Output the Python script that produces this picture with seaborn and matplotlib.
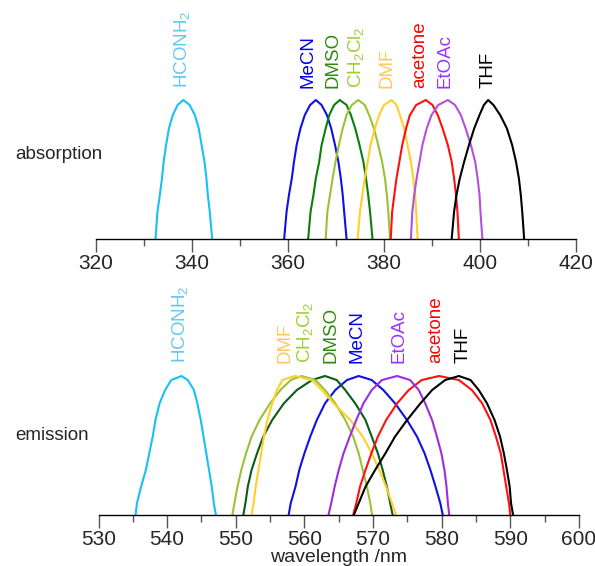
import numpy as np
import pandas as pd
import matplotlib
matplotlib.use("Agg")
import matplotlib.pyplot as plt
import seaborn as sns
from matplotlib.ticker import MultipleLocator

sns.set_style("white")
plt.rcParams['font.family'] = ['Liberation Sans', 'DejaVu Sans']
plt.rcParams['mathtext.fontset'] = 'custom'
plt.rcParams['mathtext.rm'] = 'Liberation Sans'
plt.rcParams['mathtext.it'] = 'Liberation Sans:italic'

solvents = ['HCONH2', 'MeCN', 'DMSO', 'CH2Cl2', 'DMF', 'acetone', 'EtOAc', 'THF']
solvent_labels = [r'HCONH$_\mathregular{2}$', 'MeCN', 'DMSO', r'CH$_\mathregular{2}$Cl$_\mathregular{2}$',
                  'DMF', 'acetone', 'EtOAc', 'THF']

# ---- absorption (normalised top part of each band), read at fixed levels ----
abs_levels = [0, 0.196, 0.317, 0.437, 0.556, 0.676, 0.796, 0.892, 0.964, 1.0,
              0.964, 0.892, 0.796, 0.676, 0.556, 0.437, 0.317, 0.196, 0]
abs_HCONH2_x = [332.4, 332.8, 333.3, 333.75, 334.1, 334.6, 335.2, 336.0, 337.0, 338.2,
                339.5, 340.6, 341.4, 342.0, 342.6, 343.0, 343.3, 343.7, 344.2]
abs_MeCN_x = [359.2, 359.7, 360.2, 360.8, 361.25, 361.8, 362.6, 363.5, 364.6, 365.8,
              367.0, 368.1, 369.0, 369.8, 370.5, 371.0, 371.4, 371.7, 372.2]
abs_DMSO_x = [364.2, 364.7, 365.3, 365.8, 366.5, 367.0, 367.85, 368.6, 369.6, 370.8,
              372.2, 373.1, 374.0, 374.9, 375.7, 376.25, 376.7, 377.1, 377.6]
abs_CH2Cl2_x = [367.85, 368.2, 368.75, 369.3, 369.9, 370.6, 371.4, 372.2, 373.3, 374.65,
                376.0, 376.9, 377.9, 378.8, 379.6, 380.2, 380.6, 380.9, 381.25]
abs_DMF_x = [374.5, 375.0, 375.5, 376.0, 376.6, 377.2, 378.1, 379.0, 380.0, 381.6,
             382.6, 383.3, 384.2, 384.9, 385.6, 386.1, 386.5, 386.7, 387.0]
abs_acetone_x = [381.4, 381.7, 382.15, 382.6, 383.2, 383.8, 384.6, 385.4, 386.7, 388.7,
                 390.1, 391.2, 392.2, 393.3, 394.1, 394.6, 395.0, 395.3, 395.6]
abs_EtOAc_x = [385.6, 385.9, 386.3, 386.8, 387.4, 388.0, 388.9, 389.9, 391.3, 393.3,
               394.8, 396.0, 397.0, 398.1, 399.0, 399.5, 399.9, 400.1, 400.5]
abs_THF_x = [394.1, 394.6, 395.1, 395.8, 396.7, 397.7, 398.8, 399.9, 400.8, 401.7,
             402.8, 404.2, 405.6, 406.7, 407.5, 408.1, 408.5, 408.8, 409.2]

# ---- emission (normalised), read at fixed levels ----
em_levels = [0, 0.084, 0.204, 0.324, 0.444, 0.564, 0.683, 0.803, 0.899, 0.971, 1.0,
             0.971, 0.899, 0.803, 0.683, 0.564, 0.444, 0.324, 0.204, 0.084, 0]
em_HCONH2_x = [535.4, 535.6, 536.2, 536.9, 537.4, 537.9, 538.3, 538.9, 539.7, 540.6, 542.1,
               543.0, 543.9, 544.4, 544.9, 545.3, 545.7, 546.1, 546.5, 546.8, 547.1]
em_CH2Cl2_x = [549.5, 549.8, 550.25, 550.8, 551.5, 552.3, 553.45, 555.0, 556.5, 558.0, 559.6,
               561.6, 563.0, 564.5, 565.95, 567.1, 567.9, 568.5, 569.1, 569.6, 569.85]
em_DMF_x = [552.3, 552.6, 552.9, 553.3, 553.7, 554.1, 554.6, 555.3, 556.0, 556.8, 558.6,
            561.1, 562.55, 564.25, 566.7, 568.5, 569.8, 570.9, 571.9, 572.75, 573.35]
em_DMSO_x = [551.1, 551.4, 551.75, 552.3, 553.1, 554.0, 555.3, 557.0, 558.9, 561.1, 563.0,
             564.7, 565.95, 567.4, 568.9, 569.8, 570.7, 571.4, 572.0, 572.5, 572.85]
em_MeCN_x = [557.7, 558.0, 558.7, 559.25, 560.0, 560.85, 561.8, 563.0, 564.5, 566.2, 567.9,
             569.8, 571.5, 573.2, 574.95, 576.4, 577.5, 578.35, 579.1, 579.8, 580.15]
em_EtOAc_x = [563.5, 563.9, 564.4, 565.0, 565.7, 566.6, 567.55, 568.6, 569.8, 571.3, 573.5,
              575.4, 576.65, 577.6, 578.6, 579.3, 579.95, 580.4, 580.7, 580.9, 581.1]
em_acetone_x = [567.1, 567.55, 568.1, 568.9, 569.75, 570.7, 571.9, 573.5, 575.2, 577.1, 579.6,
                582.5, 584.4, 585.9, 587.1, 587.9, 588.6, 589.0, 589.4, 589.8, 590.0]
em_THF_x = [567.2, 567.9, 568.9, 570.3, 571.8, 573.2, 574.95, 576.9, 578.6, 580.5, 582.5,
            584.2, 585.4, 586.6, 587.7, 588.5, 589.05, 589.5, 589.9, 590.1, 590.4]

# label positions (nm)
abs_label_x = [337.9, 364.1, 369.3, 374.2, 380.7, 387.4, 392.7, 401.7]
em_label_x = [541.9, 567.7, 563.8, 560.1, 557.2, 579.1, 573.8, 583.1]

abs_line_colors = ['#18c0f5', '#1010e6', '#0a800a', '#9cc234', '#ffd02a', '#ff1010', '#b450e0', '#000000']
em_line_colors = ['#18c0f5', '#1010e6', '#0b5c18', '#9cc234', '#ffd02a', '#ff1010', '#9a2ee0', '#000000']
label_colors = ['#66c8f0', '#0000ee', '#2e8a08', '#9ed030', '#ffc860', '#ff0000', '#9933ff', '#000000']

abs_xs = [abs_HCONH2_x, abs_MeCN_x, abs_DMSO_x, abs_CH2Cl2_x, abs_DMF_x, abs_acetone_x, abs_EtOAc_x, abs_THF_x]
em_xs = [em_HCONH2_x, em_MeCN_x, em_DMSO_x, em_CH2Cl2_x, em_DMF_x, em_acetone_x, em_EtOAc_x, em_THF_x]


def build(xs_list, levels):
    rows = []
    for s, xs in zip(solvents, xs_list):
        for i, (x, y) in enumerate(zip(xs, levels)):
            rows.append((s, i, x, y))
    return pd.DataFrame(rows, columns=['solvent', 'i', 'wl', 'val'])


df_abs = build(abs_xs, abs_levels)
df_em = build(em_xs, em_levels)

W, H = 595, 566
fig = plt.figure(figsize=(W / 100, H / 100), dpi=100)

ax1 = fig.add_axes([96 / W, (H - 239) / H, 480 / W, 149 / H])
ax2 = fig.add_axes([98.5 / W, (H - 515) / H, 480.5 / W, 149 / H])

for ax, df, lcols, xlim, lab_x, lab_y, maj, mnr in [
        (ax1, df_abs, abs_line_colors, (320, 420), abs_label_x, 1.086, 20, 10),
        (ax2, df_em, em_line_colors, (530, 600), em_label_x, 1.094, 10, 5)]:
    sns.lineplot(data=df, x='wl', y='val', hue='solvent', units='solvent', estimator=None,
                 sort=False, palette=dict(zip(solvents, lcols)), hue_order=solvents,
                 legend=False, lw=1.5, ax=ax)
    for ln in ax.lines:
        ln.set_clip_on(False)
        ln.set_solid_joinstyle('round')
    ax.set_xlim(*xlim)
    ax.set_ylim(0, 149 / 139)
    ax.set_xlabel('')
    ax.set_ylabel('')
    ax.set_yticks([])
    for sp in ['top', 'left', 'right']:
        ax.spines[sp].set_visible(False)
    ax.spines['bottom'].set_color('black')
    ax.spines['bottom'].set_linewidth(1.0)
    ax.xaxis.set_major_locator(MultipleLocator(maj))
    ax.xaxis.set_minor_locator(MultipleLocator(mnr))
    ax.tick_params(axis='x', which='major', direction='out', length=9, width=1.0,
                   color='#555555', labelsize=15, pad=1.5, bottom=True)
    ax.tick_params(axis='x', which='minor', direction='out', length=5, width=1.0,
                   color='#555555', bottom=True)
    ax.set_facecolor('none')
    for lbl, x, c in zip(solvent_labels, lab_x, label_colors):
        ax.text(x, lab_y, lbl, rotation=90, ha='center', va='bottom', color=c,
                fontsize=13.5, clip_on=False)

ax2.set_xlabel('wavelength /nm', fontsize=14, labelpad=0)

fig.text(15 / W, 1 - 155 / H, 'absorption', fontsize=13.5, va='center', ha='left')
fig.text(15 / W, 1 - 435 / H, 'emission', fontsize=13.5, va='center', ha='left')

fig.savefig('out.png', dpi=100)
